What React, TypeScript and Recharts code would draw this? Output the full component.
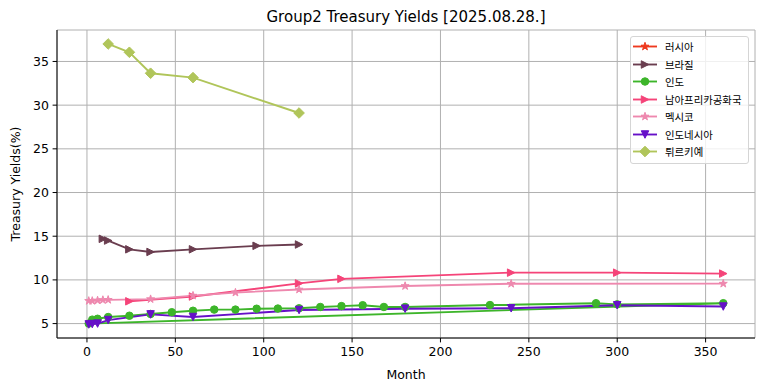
import React from 'react';
import { LineChart, Line, XAxis, YAxis, CartesianGrid } from 'recharts';

const xTicks = [0, 50, 100, 150, 200, 250, 300, 350];
const yTicks = [5, 10, 15, 20, 25, 30, 35];

const seriesNames = ['러시아', '브라질', '인도', '남아프리카공화국', '멕시코', '인도네시아', '튀르키예'];

const russiaMonths: number[] = [];
const russiaYields: number[] = [];
const brazilMonths = [9, 12, 24, 36, 60, 96, 120];
const brazilYields = [14.7, 14.5, 13.5, 13.2, 13.5, 13.9, 14.05];
const indiaMonths = [3, 6, 12, 24, 36, 48, 60, 72, 84, 96, 108, 120, 132, 144, 156, 168, 180, 228, 288, 300, 360, 1];
const indiaYields = [5.45, 5.55, 5.75, 5.9, 6.1, 6.3, 6.47, 6.6, 6.6, 6.7, 6.72, 6.75, 6.9, 7.0, 7.1, 6.9, 6.9, 7.12, 7.33, 7.2, 7.33, 5.0];
const southAfricaMonths = [24, 60, 120, 144, 240, 300, 360];
const southAfricaYields = [7.55, 8.1, 9.6, 10.12, 10.83, 10.83, 10.72];
const mexicoMonths = [1, 3, 6, 9, 12, 36, 60, 84, 120, 180, 240, 360];
const mexicoYields = [7.6, 7.6, 7.65, 7.7, 7.72, 7.8, 8.2, 8.55, 8.9, 9.3, 9.56, 9.57];
const indonesiaMonths = [1, 3, 6, 12, 36, 60, 120, 180, 240, 300, 360];
const indonesiaYields = [4.9, 4.95, 5.0, 5.4, 6.05, 5.75, 6.55, 6.7, 6.75, 7.1, 6.95];
const turkeyMonths = [12, 24, 36, 60, 120];
const turkeyYields = [37.0, 36.05, 33.65, 33.15, 29.1];

type Shape = 'star' | 'triangleRight' | 'circle' | 'triangleDown' | 'diamond';

const zip = (xs: number[], ys: number[]) => xs.map((x, i) => ({ x, y: ys[i] }));

const series = [
  { name: seriesNames[0], color: '#ee3a1f', shape: 'star' as Shape, data: zip(russiaMonths, russiaYields) },
  { name: seriesNames[1], color: '#6a3d4f', shape: 'triangleRight' as Shape, data: zip(brazilMonths, brazilYields) },
  { name: seriesNames[2], color: '#3db52a', shape: 'circle' as Shape, data: zip(indiaMonths, indiaYields) },
  { name: seriesNames[3], color: '#f54479', shape: 'triangleRight' as Shape, data: zip(southAfricaMonths, southAfricaYields) },
  { name: seriesNames[4], color: '#ee88ae', shape: 'star' as Shape, data: zip(mexicoMonths, mexicoYields) },
  { name: seriesNames[5], color: '#6610c8', shape: 'triangleDown' as Shape, data: zip(indonesiaMonths, indonesiaYields) },
  { name: seriesNames[6], color: '#b0c55a', shape: 'diamond' as Shape, data: zip(turkeyMonths, turkeyYields) },
];

const starPoints = (cx: number, cy: number, r: number) => {
  const pts: string[] = [];
  for (let i = 0; i < 10; i++) {
    const rr = i % 2 === 0 ? r : r * 0.382;
    const a = -Math.PI / 2 + (i * Math.PI) / 5;
    pts.push(`${cx + rr * Math.cos(a)},${cy + rr * Math.sin(a)}`);
  }
  return pts.join(' ');
};

const Marker = ({ shape, cx, cy, color }: { shape: Shape; cx: number; cy: number; color: string }) => {
  const s = 3.75;
  const common = { fill: color, stroke: color, strokeWidth: 1 };
  if (shape === 'circle') return <circle cx={cx} cy={cy} r={s} {...common} />;
  if (shape === 'triangleRight')
    return <polygon points={`${cx + s},${cy} ${cx - s},${cy - s} ${cx - s},${cy + s}`} {...common} />;
  if (shape === 'triangleDown')
    return <polygon points={`${cx},${cy + s} ${cx - s},${cy - s} ${cx + s},${cy - s}`} {...common} />;
  if (shape === 'diamond') {
    const d = 5.3;
    return <polygon points={`${cx},${cy - d} ${cx + d},${cy} ${cx},${cy + d} ${cx - d},${cy}`} {...common} />;
  }
  return <polygon points={starPoints(cx, cy, 4.2)} {...common} />;
};

const font = 'DejaVu Sans, sans-serif';
const tickStyle = { fill: '#000', fontSize: 12.5, fontFamily: font };

const App = () => {
  return (
    <div style={{ position: 'absolute', left: 0, top: 0, width: 764, height: 391, background: '#fff' }}>
      <div
        style={{
          position: 'absolute',
          top: 8,
          left: 57,
          width: 698,
          textAlign: 'center',
          fontFamily: font,
          fontSize: 15,
          color: '#000',
        }}
      >
        Group2 Treasury Yields [2025.08.28.]
      </div>
      <LineChart width={764} height={391} margin={{ top: 30, right: 9, bottom: 0, left: 0 }}>
        <CartesianGrid stroke="#b0b0b0" strokeWidth={1} />
        <XAxis
          dataKey="x"
          type="number"
          domain={[-16.95, 377.95]}
          ticks={xTicks}
          allowDataOverflow
          height={53}
          tick={tickStyle}
          tickSize={4.4}
          tickMargin={5}
          axisLine={{ stroke: '#000' }}
          tickLine={{ stroke: '#000' }}
          label={() => (
            <text x={406} y={379} textAnchor="middle" fontSize={12.5} fontFamily={font} fill="#000">
              Month
            </text>
          )}
        />
        <XAxis
          xAxisId="top"
          orientation="top"
          type="number"
          domain={[-16.95, 377.95]}
          height={0}
          tick={false}
          tickLine={false}
          axisLine={{ stroke: '#000' }}
        />
        <YAxis
          type="number"
          domain={[3.35, 38.6]}
          ticks={yTicks}
          allowDataOverflow
          width={57}
          tick={tickStyle}
          tickSize={4.4}
          tickMargin={3.6}
          axisLine={{ stroke: '#000' }}
          tickLine={{ stroke: '#000' }}
          label={() => (
            <text
              x={19.5}
              y={184}
              transform="rotate(-90 19.5 184)"
              textAnchor="middle"
              fontSize={12.5}
              fontFamily={font}
              fill="#000"
            >
              Treasury Yields(%)
            </text>
          )}
        />
        <YAxis
          yAxisId="right"
          orientation="right"
          width={0}
          tick={false}
          tickLine={false}
          axisLine={{ stroke: '#000' }}
        />
        {series
          .filter((s) => s.data.length > 0)
          .map((s) => (
            <Line
              key={s.name}
              data={s.data}
              dataKey="y"
              name={s.name}
              stroke={s.color}
              strokeWidth={1.875}
              isAnimationActive={false}
              activeDot={false}
              dot={(p: any) => (
                <Marker key={`${s.name}-${p.index}`} shape={s.shape} cx={p.cx} cy={p.cy} color={s.color} />
              )}
            />
          ))}
      </LineChart>
      <div
        style={{
          position: 'absolute',
          left: 630,
          top: 36,
          width: 117,
          paddingTop: 1,
          paddingBottom: 2,
          border: '1px solid #d5d5d5',
          borderRadius: 3,
          background: 'rgba(255,255,255,0.8)',
          fontFamily: "'Noto Sans CJK KR', sans-serif",
          fontSize: 10.4,
          color: '#000',
        }}
      >
        {series.map((s) => (
          <div key={s.name} style={{ display: 'flex', alignItems: 'center', height: 17.5 }}>
            <svg width={34} height={17} style={{ flexShrink: 0 }}>
              <line x1={2} y1={8.5} x2={26} y2={8.5} stroke={s.color} strokeWidth={1.875} />
              <Marker shape={s.shape} cx={14} cy={8.5} color={s.color} />
            </svg>
            <span style={{ whiteSpace: 'nowrap', lineHeight: '17px' }}>{s.name}</span>
          </div>
        ))}
      </div>
    </div>
  );
};

export default App;
